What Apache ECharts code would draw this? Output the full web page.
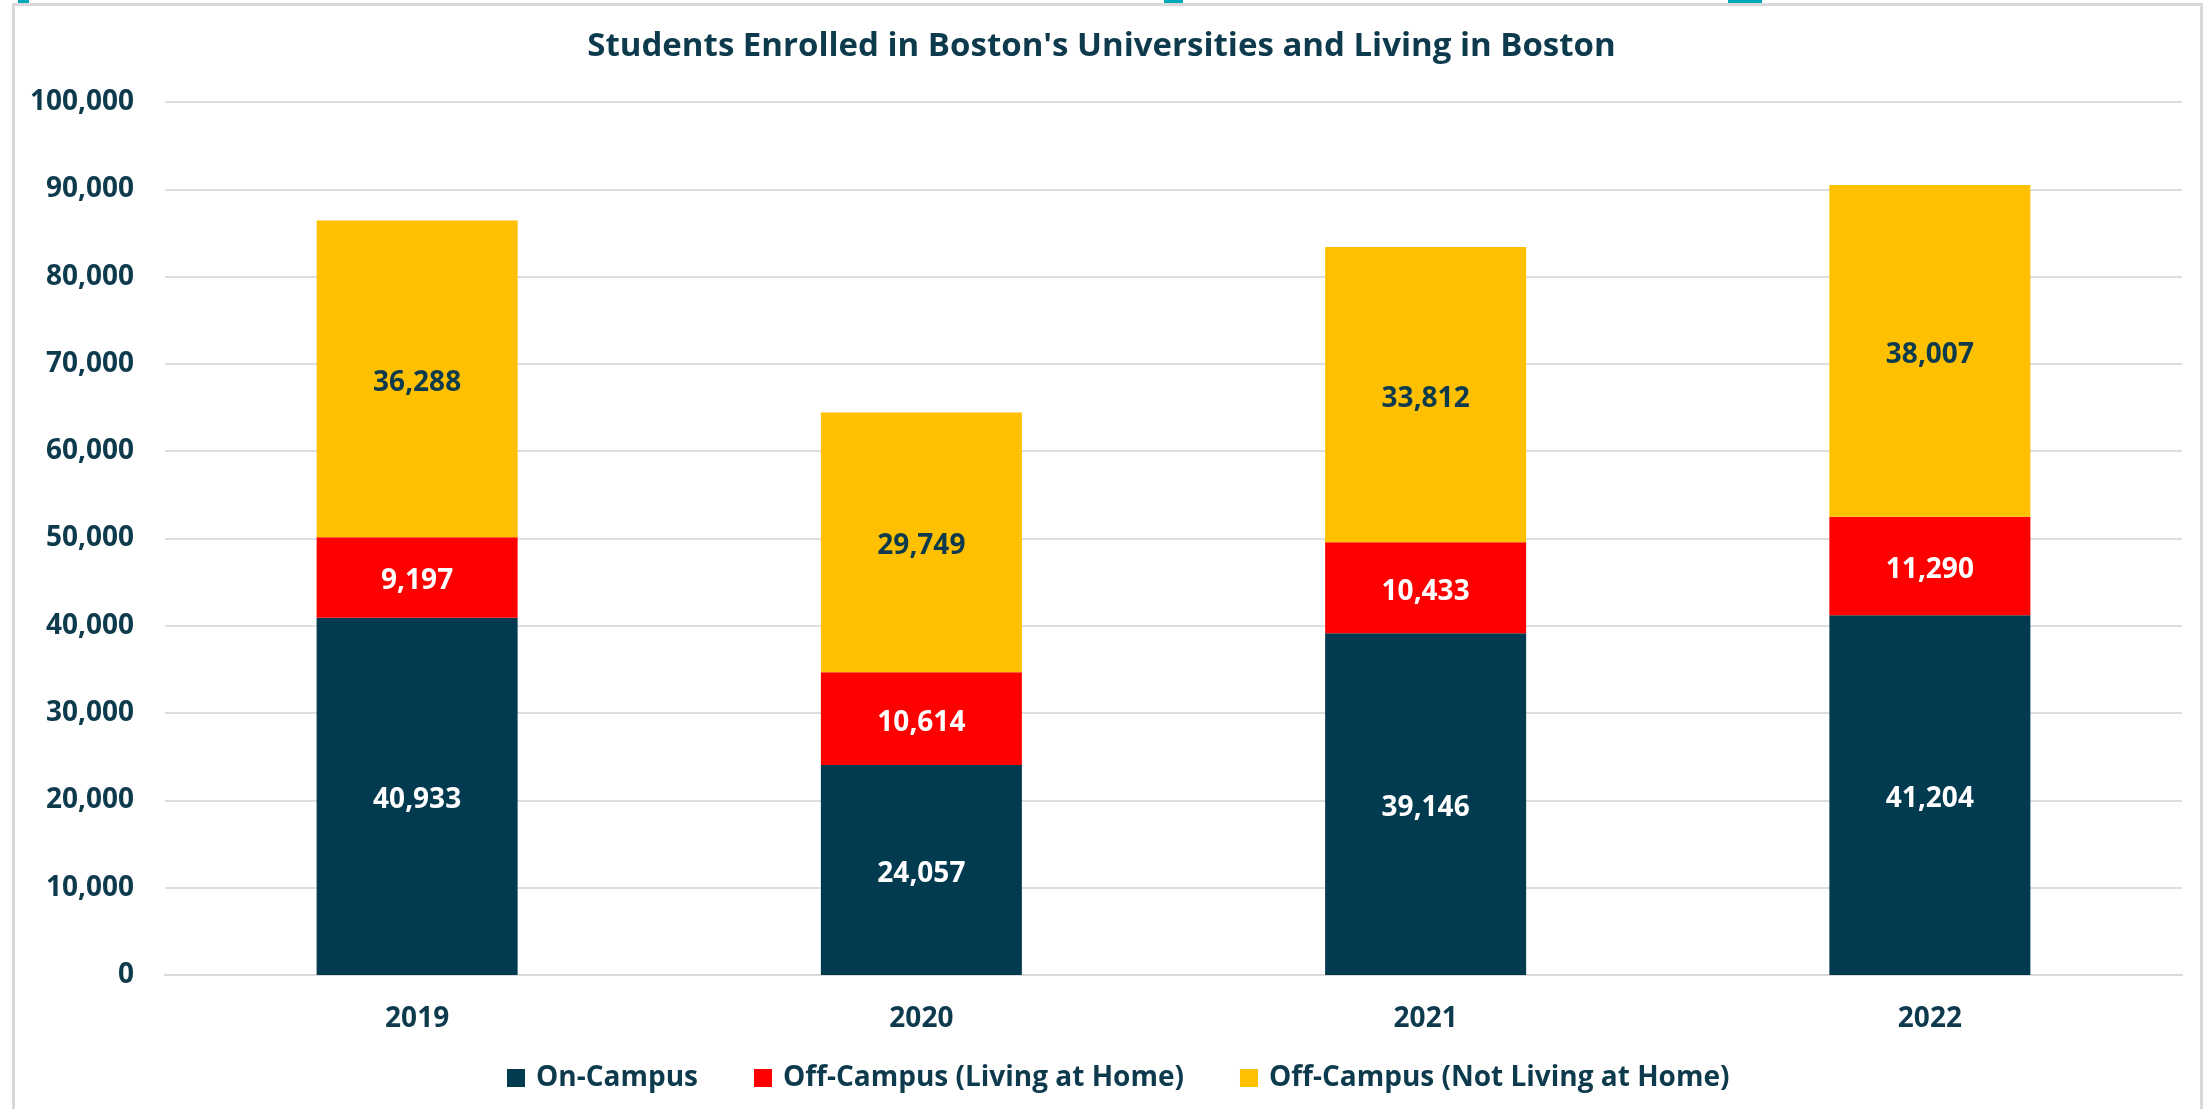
<!DOCTYPE html>
<html>
<head>
<meta charset="utf-8">
<script src="https://cdn.jsdelivr.net/npm/echarts@6/dist/echarts.min.js"></script>
<style>
  html, body { margin: 0; padding: 0; background: #fff; }
  #app { width: 2203px; height: 1109px; }
</style>
</head>
<body>
<div id="app"></div>
<script>
var years = ['2019', '2020', '2021', '2022'];
var onCampus = [40933, 24057, 39146, 41204];
var offHome = [9197, 10614, 10433, 11290];
var offNotHome = [36288, 29749, 33812, 38007];

var navy = '#023b50';
var red = '#ff0000';
var gold = '#ffc000';
var textColor = '#0d3a4c';
var font = '"Open Sans", "Noto Sans", sans-serif';

function fmt(v) {
  return v.toLocaleString('en-US');
}

// same label look for each stacked segment
function segLabel(color) {
  return {
    show: true,
    position: 'inside',
    offset: [0, 4],
    fontFamily: font,
    fontWeight: 'bold',
    fontSize: 28,
    color: color,
    formatter: function (p) { return fmt(p.value); }
  };
}

var myChart = echarts.init(document.getElementById('app'));

myChart.setOption({
  backgroundColor: '#fff',
  animation: false,
  title: {
    text: "Students Enrolled in Boston's Universities and Living in Boston",
    left: 'center',
    top: 25,
    textStyle: {
      fontFamily: font,
      fontWeight: 'bold',
      fontSize: 33,
      color: textColor
    }
  },
  legend: {
    left: 502,
    top: 1059,
    itemWidth: 18,
    itemHeight: 18,
    itemGap: 56,
    icon: 'rect',
    textStyle: {
      fontFamily: font,
      fontWeight: 'bold',
      fontSize: 28,
      color: textColor,
      padding: [0, 0, 0, 6]
    },
    data: ['On-Campus', 'Off-Campus (Living at Home)', 'Off-Campus (Not Living at Home)']
  },
  grid: {
    left: 165,
    right: 21,
    top: 102,
    bottom: 134,
    containLabel: false
  },
  xAxis: {
    type: 'category',
    data: years,
    axisLine: { lineStyle: { color: '#d9d9d9', width: 2 } },
    axisTick: { show: false },
    axisLabel: {
      margin: 30,
      fontFamily: font,
      fontWeight: 'bold',
      fontSize: 28,
      color: textColor
    }
  },
  yAxis: {
    type: 'value',
    min: 0,
    max: 100000,
    interval: 10000,
    axisLine: { show: false },
    axisTick: { show: false },
    splitLine: { lineStyle: { color: '#dedede', width: 2 } },
    axisLabel: {
      margin: 31,
      fontFamily: font,
      fontWeight: 'bold',
      fontSize: 28,
      color: textColor,
      formatter: function (v) { return fmt(v); }
    }
  },
  graphic: [
    {
      type: 'polyline',
      silent: true,
      shape: { points: [[13.5, 1115], [13.5, 4.5], [2201.5, 4.5], [2201.5, 1115]] },
      style: { fill: null, stroke: '#d9d9d9', lineWidth: 3 }
    },
    { type: 'rect', silent: true, shape: { x: 18, y: 0, width: 11, height: 3 }, style: { fill: '#00a9b7' } },
    { type: 'rect', silent: true, shape: { x: 1164, y: 0, width: 19, height: 3 }, style: { fill: '#00a9b7' } },
    { type: 'rect', silent: true, shape: { x: 1728, y: 0, width: 34, height: 3 }, style: { fill: '#00a9b7' } }
  ],
  series: [
    {
      name: 'On-Campus',
      type: 'bar',
      stack: 'total',
      barWidth: 201,
      data: onCampus,
      itemStyle: { color: navy },
      label: segLabel('#ffffff')
    },
    {
      name: 'Off-Campus (Living at Home)',
      type: 'bar',
      stack: 'total',
      barWidth: 201,
      data: offHome,
      itemStyle: { color: red },
      label: segLabel('#ffffff')
    },
    {
      name: 'Off-Campus (Not Living at Home)',
      type: 'bar',
      stack: 'total',
      barWidth: 201,
      data: offNotHome,
      itemStyle: { color: gold },
      label: segLabel(textColor)
    }
  ]
});
</script>
</body>
</html>
